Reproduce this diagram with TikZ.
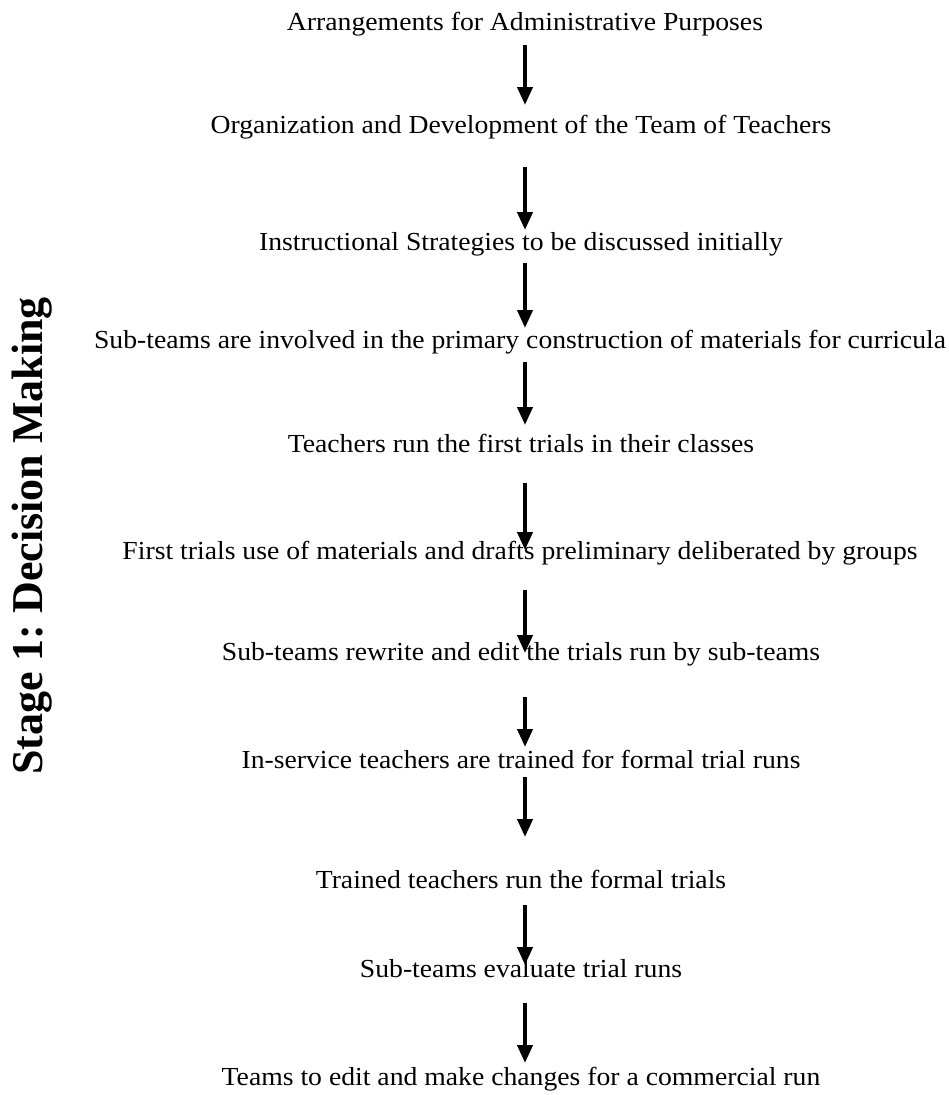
\documentclass[tikz,border=0pt]{standalone}
\usepackage{fontspec}
\setmainfont{Liberation Serif}
\usetikzlibrary{arrows.meta}
\newcommand\widetxt[1]{\scalebox{1.065}[1]{#1}}
\begin{document}
\frenchspacing
\begin{tikzpicture}[x=1pt,y=-1pt,
  steptext/.style={anchor=base, inner sep=0pt, font=\fontsize{26}{30}\selectfont},
  flow/.style={line width=4pt, -{Triangle[width=15pt,length=18pt]}},
  stagelabel/.style={rotate=90, inner sep=0pt, font=\fontsize{44}{50}\selectfont\bfseries}]
\useasboundingbox (0,0) rectangle (949,1095);
\node[steptext] (t1) at (525,30) {\widetxt{Arrangements for Administrative Purposes}};
\node[steptext] (t2) at (521,133) {\widetxt{Organization and Development of the Team of Teachers}};
\node[steptext] (t3) at (521,250) {\widetxt{Instructional Strategies to be discussed initially}};
\node[steptext] (t4) at (520,348) {\widetxt{Sub-teams are involved in the primary construction of materials for curricula}};
\node[steptext] (t5) at (521,452) {\widetxt{Teachers run the first trials in their classes}};
\node[steptext] (t6) at (520,559) {\widetxt{First trials use of materials and drafts preliminary deliberated by groups}};
\node[steptext] (t7) at (521,660) {\widetxt{Sub-teams rewrite and edit the trials run by sub-teams}};
\node[steptext] (t8) at (521,768) {\widetxt{In-service teachers are trained for formal trial runs}};
\node[steptext] (t9) at (521,888) {\widetxt{Trained teachers run the formal trials}};
\node[steptext] (t10) at (521,977) {\widetxt{Sub-teams evaluate trial runs}};
\node[steptext] (t11) at (521,1085) {\widetxt{Teams to edit and make changes for a commercial run}};
\node[stagelabel] (stage) at (32,536) {Stage 1: Decision Making};
\coordinate (s1) at (525,45);   \coordinate (e1) at (525,105);
\coordinate (s2) at (525,167);  \coordinate (e2) at (525,230);
\coordinate (s3) at (525,263);  \coordinate (e3) at (525,328);
\coordinate (s4) at (525,362);  \coordinate (e4) at (525,425);
\coordinate (s5) at (525,483);  \coordinate (e5) at (525,550);
\coordinate (s6) at (525,590);  \coordinate (e6) at (525,653);
\coordinate (s7) at (525,697);  \coordinate (e7) at (525,747);
\coordinate (s8) at (525,777);  \coordinate (e8) at (525,837);
\coordinate (s9) at (525,905);  \coordinate (e9) at (525,965);
\coordinate (s10) at (525,1003); \coordinate (e10) at (525,1063);
\foreach \i in {1,...,10} \draw[flow] (s\i) -- (e\i);
\end{tikzpicture}
\end{document}
